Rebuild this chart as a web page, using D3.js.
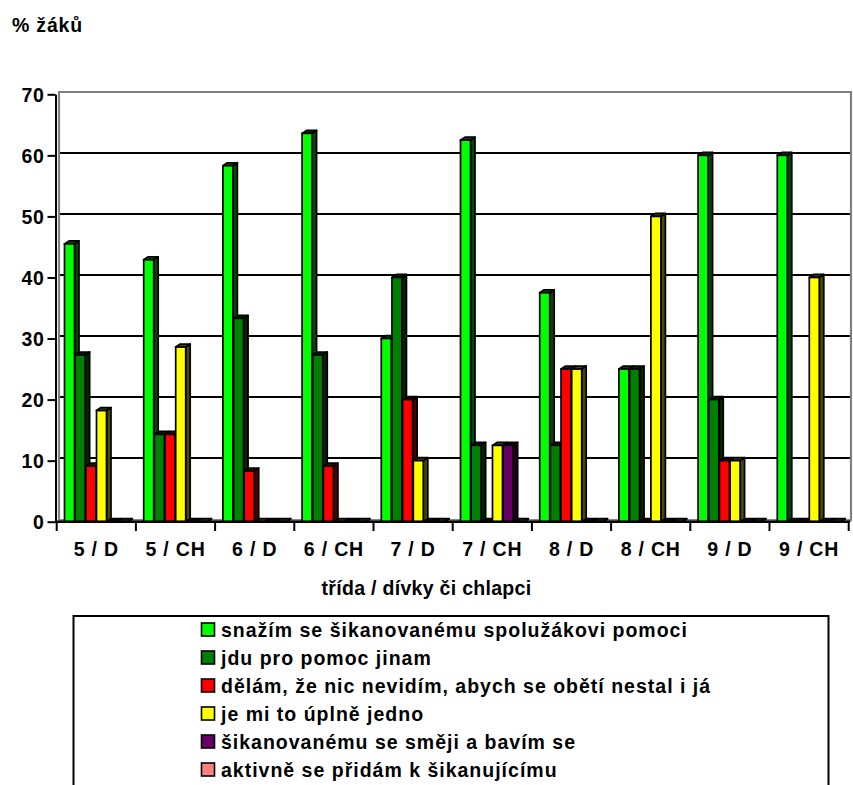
<!DOCTYPE html>
<html>
<head>
<meta charset="utf-8">
<script src="https://cdn.jsdelivr.net/npm/d3@7"></script>
<style>
  body{margin:0;background:#fff;}
  svg text{font-family:"Liberation Sans",Arial,sans-serif;font-weight:bold;fill:#000;}
</style>
</head>
<body>
<svg id="chart" width="853" height="785"></svg>
<script>
//data------------------------------------------------
var categories=['5 / D','5 / CH','6 / D','6 / CH','7 / D','7 / CH','8 / D','8 / CH','9 / D','9 / CH'];
var seriesNames=['snažím se šikanovanému spolužákovi pomoci','jdu pro pomoc jinam','dělám, že nic nevidím, abych se obětí nestal i já','je mi to úplně jedno','šikanovanému se směji a bavím se','aktivně se přidám k šikanujícímu'];
var seriesColors=['#00ff00','#008000','#ff0000','#ffff00','#660066','#ff8080'];
var pomoc=[45.5,42.9,58.3,63.6,30,62.5,37.5,25,60,60];
var jinam=[27.3,14.3,33.3,27.3,40,12.5,12.5,25,20,0];
var nevidim=[9.1,14.3,8.3,9.1,20,0,25,0,10,0];
var jedno=[18.2,28.6,0,0,10,12.5,25,50,10,40];
var smeji=[0,0,0,0,0,12.5,0,0,0,0];
var pridam=[0,0,0,0,0,0,0,0,0,0];
var yTicks=[0,10,20,30,40,50,60,70];
var series=[pomoc,jinam,nevidim,jedno,smeji,pridam];

var svg=d3.select('#chart');

//scales
var x=d3.scaleBand().domain(categories).range([56.7,848.7]);
var sub=d3.scaleBand().domain(d3.range(series.length)).range([7.8,7.8+64]);
var yFront=d3.scaleLinear().domain([0,70]).range([521.7,94.3]);
var yBack=d3.scaleLinear().domain([0,70]).range([519,92]);
var barW=10, dx=4.5, dy=3;

//walls, floor, gridlines
svg.append('path')
  .attr('d','M57,522 L60,519 L851,519 L851,522 Z')
  .attr('fill','#888');
svg.append('g').selectAll('line').data(yTicks.slice(1,-1)).join('line')
  .attr('x1',60).attr('x2',851)
  .attr('y1',d=>yBack(d)).attr('y2',d=>yBack(d))
  .attr('stroke','#000').attr('stroke-width',2);
svg.append('path')
  .attr('d','M59,521 L59,92 L851,92 L851,521')
  .attr('fill','none').attr('stroke','#808080').attr('stroke-width',2.2);

//bars
var groups=svg.append('g').selectAll('g').data(categories).join('g')
  .attr('transform',d=>'translate('+x(d)+',0)');
groups.each(function(cat,ci){
  var g=d3.select(this);
  series.forEach((vals,si)=>{
    var v=vals[ci];
    var bx=sub(si), top=yFront(v), base=yFront(0);
    var c=d3.color(seriesColors[si]);
    var shade=c.darker(3.5).formatHex();
    g.append('path')
      .attr('d','M'+(bx+barW)+','+top+' L'+(bx+barW+dx)+','+(top-dy)+' L'+(bx+barW+dx)+','+(base-dy)+' L'+(bx+barW)+','+base+' Z')
      .attr('fill',shade).attr('stroke','#000').attr('stroke-width',1.7).attr('stroke-linejoin','round');
    g.append('path')
      .attr('d','M'+bx+','+top+' L'+(bx+dx)+','+(top-dy)+' L'+(bx+barW+dx)+','+(top-dy)+' L'+(bx+barW)+','+top+' Z')
      .attr('fill',shade).attr('stroke','#000').attr('stroke-width',1.7).attr('stroke-linejoin','round');
    g.append('rect')
      .attr('x',bx).attr('y',top).attr('width',barW).attr('height',base-top)
      .attr('fill',c.formatHex()).attr('stroke','#000').attr('stroke-width',1.7);
  });
});

//y axis
var yAxis=svg.append('g').attr('transform','translate(55.5,0)')
  .call(d3.axisLeft(yFront).tickValues(yTicks).tickSize(8).tickSizeOuter(0).tickPadding(3));
yAxis.select('.domain').attr('stroke','#000').attr('stroke-width',2);
yAxis.selectAll('.tick line').attr('stroke','#000').attr('stroke-width',2);
yAxis.selectAll('.tick text')
  .attr('font-size',19.5).attr('font-family','Liberation Sans, Arial, sans-serif')
  .attr('font-weight','bold').style('letter-spacing','0.6px').attr('dy','0.36em');

//x axis
svg.append('line').attr('x1',55).attr('x2',850).attr('y1',521.7).attr('y2',521.7)
  .attr('stroke','#000').attr('stroke-width',2.6);
var bounds=categories.map(c=>x(c)).concat([x.range()[1]]);
svg.append('g').selectAll('line').data(bounds).join('line')
  .attr('x1',d=>d).attr('x2',d=>d).attr('y1',521.7).attr('y2',531)
  .attr('stroke','#000').attr('stroke-width',2);
svg.append('g').selectAll('text').data(categories).join('text')
  .attr('x',d=>x(d)+x.bandwidth()/2).attr('y',556)
  .attr('text-anchor','middle').attr('font-size',19.5)
  .style('letter-spacing','0.8px')
  .text(d=>d);

//titles
svg.append('text').attr('x',426.5).attr('y',595).attr('text-anchor','middle')
  .attr('font-size',19.5).style('letter-spacing','0.3px')
  .text('třída / dívky či chlapci');
svg.append('text').attr('x',12).attr('y',31.5)
  .attr('font-size',19.5).style('letter-spacing','0.8px')
  .text('% žáků');

//legend
svg.append('rect').attr('x',73.5).attr('y',616).attr('width',755).attr('height',180)
  .attr('fill','none').attr('stroke','#000').attr('stroke-width',2);
var leg=svg.append('g').selectAll('g').data(seriesNames).join('g')
  .attr('transform',(d,i)=>'translate(201.5,'+(636.5+i*28)+')');
leg.append('rect').attr('x',0).attr('y',-13.5).attr('width',13).attr('height',13)
  .attr('fill',(d,i)=>seriesColors[i]).attr('stroke','#000').attr('stroke-width',1.6);
leg.append('text').attr('x',19.5).attr('y',0)
  .attr('font-size',19.5).style('letter-spacing','1px')
  .text(d=>d);
</script>
</body>
</html>
